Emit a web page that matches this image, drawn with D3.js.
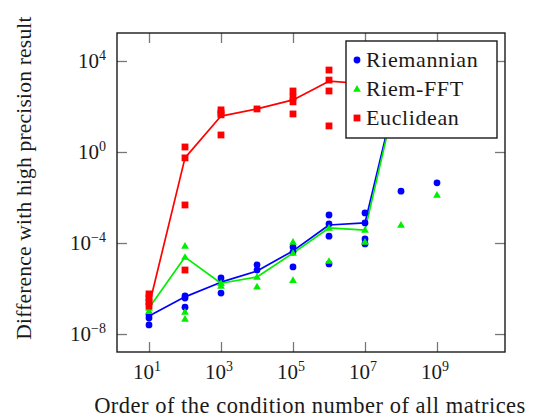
<!DOCTYPE html>
<html>
<head>
<meta charset="utf-8">
<script src="https://cdn.jsdelivr.net/npm/d3@7"></script>
<style>
  body { margin: 0; background: #fff; }
  svg { display: block; }
  text { font-family: "Liberation Serif", "DejaVu Serif", serif; fill: #1a1a1a; }
</style>
</head>
<body>
<svg id="chart" width="536" height="417"></svg>
<script>
'use strict';

// condition number order (x) and tick values
const xTicks = [1e1, 1e3, 1e5, 1e7, 1e9];
const yTicks = [1e-8, 1e-4, 1e0, 1e4];

// individual runs, [condition number, difference]
const riemannianPoints = [
  [1e1, 6.9e-8], [1e1, 5.0e-8], [1e1, 2.5e-8],
  [1e2, 4.7e-7], [1e2, 3.8e-7], [1e2, 1.5e-7],
  [1e3, 2.9e-6], [1e3, 6.3e-7],
  [1e4, 1.1e-5], [1e4, 6.5e-6],
  [1e5, 6.6e-5], [1e5, 4.0e-5], [1e5, 8.9e-6],
  [1e6, 1.7e-3], [1e6, 6.9e-4], [1e6, 2.0e-4], [1e6, 1.2e-5],
  [1e7, 2.1e-3], [1e7, 7.6e-4], [1e7, 1.5e-4], [1e7, 9.1e-5],
  [1e8, 1.9e-2],
  [1e9, 4.4e-2]
];
const riemFftPoints = [
  [1e1, 1.4e-7], [1e1, 1.0e-7],
  [1e2, 7.4e-5], [1e2, 2.4e-5], [1e2, 9.3e-8], [1e2, 4.6e-8],
  [1e3, 1.7e-6], [1e3, 1.3e-6],
  [1e4, 3.2e-6], [1e4, 1.2e-6],
  [1e5, 1.1e-4], [1e5, 3.6e-5], [1e5, 2.3e-6],
  [1e6, 4.6e-4], [1e6, 1.6e-5],
  [1e7, 3.7e-4], [1e7, 1.1e-4],
  [1e8, 6.2e-4],
  [1e9, 1.3e-2]
];
const euclideanPoints = [
  [1e1, 5.8e-7], [1e1, 3.8e-7], [1e1, 2.6e-7], [1e1, 1.7e-7],
  [1e2, 1.66], [1e2, 0.55], [1e2, 4.7e-3], [1e2, 6.5e-6],
  [1e3, 71], [1e3, 52], [1e3, 43], [1e3, 5.6],
  [1e4, 78],
  [1e5, 480], [1e5, 260], [1e5, 160], [1e5, 47],
  [1e6, 4000], [1e6, 1450], [1e6, 480], [1e6, 14]
];

// averaged curves
const riemannianLine = [
  [1e1, 6.2e-8], [1e2, 4.3e-7], [1e3, 1.9e-6], [1e4, 5.9e-6],
  [1e5, 4.5e-5], [1e6, 6.2e-4], [1e7, 7.6e-4], [1e8, 3.0e3]
];
const riemFftLine = [
  [1e1, 1.4e-7], [1e2, 2.4e-5], [1e3, 1.7e-6], [1e4, 3.2e-6],
  [1e5, 3.6e-5], [1e6, 4.6e-4], [1e7, 3.7e-4], [1e8, 2.5e3]
];
const euclideanLine = [
  [1e1, 1.7e-7], [1e2, 0.55], [1e3, 38], [1e4, 78],
  [1e5, 195], [1e6, 1300], [1e7, 1000]
];

const seriesNames = ['Riemannian', 'Riem-FFT', 'Euclidean'];
const seriesColors = ['#0000ff', '#00ee00', '#ff0000'];

const svg = d3.select('#chart');
const plotLeft = 117, plotRight = 505, plotTop = 33, plotBottom = 352;

const x = d3.scaleLog()
  .domain([Math.pow(10, 0.111), Math.pow(10, 10.889)])
  .range([plotLeft, plotRight]);
const y = d3.scaleLog()
  .domain([Math.pow(10, -8.79), Math.pow(10, 5.23)])
  .range([plotBottom, plotTop]);

svg.append('clipPath').attr('id', 'plotClip')
  .append('rect')
  .attr('x', plotLeft).attr('y', plotTop)
  .attr('width', plotRight - plotLeft).attr('height', plotBottom - plotTop);

const plot = svg.append('g').attr('clip-path', 'url(#plotClip)');

const line = d3.line().x(d => x(d[0])).y(d => y(d[1]));

function drawLine(data, color) {
  plot.append('path')
    .datum(data)
    .attr('d', line)
    .attr('fill', 'none')
    .attr('stroke', color)
    .attr('stroke-width', 1.7)
    .attr('stroke-linejoin', 'round');
}

function drawMarker(g, kind, color, cx, cy) {
  if (kind === 0) {
    g.append('circle').attr('cx', cx).attr('cy', cy).attr('r', 3.4).attr('fill', color);
  } else if (kind === 1) {
    g.append('path')
      .attr('d', d3.symbol(d3.symbolTriangle).size(26)())
      .attr('transform', `translate(${cx},${cy + 0.5})`)
      .attr('fill', color);
  } else {
    g.append('rect').attr('x', cx - 3.4).attr('y', cy - 3.4)
      .attr('width', 6.8).attr('height', 6.8).attr('fill', color);
  }
}

drawLine(riemannianLine, seriesColors[0]);
drawLine(riemFftLine, seriesColors[1]);
drawLine(euclideanLine, seriesColors[2]);

[riemannianPoints, riemFftPoints, euclideanPoints].forEach((pts, i) => {
  const g = plot.append('g');
  pts.forEach(d => drawMarker(g, i, seriesColors[i], x(d[0]), y(d[1])));
});

// ticks on all four sides, pointing inwards
function tickAxis(axis, tx, ty) {
  const g = svg.append('g')
    .attr('transform', `translate(${tx},${ty})`)
    .call(axis.tickSizeInner(-10).tickSizeOuter(0).tickFormat(''));
  g.select('.domain').remove();
  g.selectAll('.tick line').attr('stroke', '#777').attr('stroke-width', 1.3);
}
tickAxis(d3.axisBottom(x).tickValues(xTicks), 0, plotBottom);
tickAxis(d3.axisTop(x).tickValues(xTicks), 0, plotTop);
tickAxis(d3.axisLeft(y).tickValues(yTicks), plotLeft, 0);
tickAxis(d3.axisRight(y).tickValues(yTicks), plotRight, 0);

svg.append('rect')
  .attr('x', plotLeft).attr('y', plotTop)
  .attr('width', plotRight - plotLeft).attr('height', plotBottom - plotTop)
  .attr('fill', 'none')
  .attr('stroke', '#1a1a1a')
  .attr('stroke-width', 1.4);

function powLabel(sel, v) {
  const e = Math.round(Math.log10(v));
  sel.append('tspan').text('10');
  sel.append('tspan')
    .attr('dy', -8)
    .attr('font-size', 14)
    .text(e < 0 ? '\u2212' + (-e) : String(e));
}

svg.append('g').selectAll('text')
  .data(xTicks)
  .join('text')
  .attr('x', d => x(d) - 2)
  .attr('y', 379)
  .attr('text-anchor', 'middle')
  .attr('font-size', 21)
  .each(function(d) { powLabel(d3.select(this), d); });

svg.append('g').selectAll('text')
  .data(yTicks)
  .join('text')
  .attr('x', 106)
  .attr('y', d => y(d) + 7)
  .attr('text-anchor', 'end')
  .attr('font-size', 21)
  .each(function(d) { powLabel(d3.select(this), d); });

svg.append('text')
  .attr('x', 310)
  .attr('y', 413)
  .attr('text-anchor', 'middle')
  .attr('font-size', 22.5)
  .attr('letter-spacing', 0.5)
  .text('Order of the condition number of all matrices');

svg.append('text')
  .attr('transform', 'translate(31,178) rotate(-90)')
  .attr('text-anchor', 'middle')
  .attr('font-size', 21.5)
  .attr('letter-spacing', 0.2)
  .text('Difference with high precision result');

// legend
const legend = svg.append('g').attr('transform', 'translate(346,41)');
legend.append('rect')
  .attr('width', 151).attr('height', 97)
  .attr('fill', '#fff')
  .attr('stroke', '#1a1a1a')
  .attr('stroke-width', 1.4);
seriesNames.forEach((name, i) => {
  const cy = 19 + i * 29;
  drawMarker(legend, i, seriesColors[i], 11, cy);
  legend.append('text')
    .attr('x', 20)
    .attr('y', cy + 7)
    .attr('font-size', 22)
    .attr('letter-spacing', 0.6)
    .text(name);
});
</script>
</body>
</html>
